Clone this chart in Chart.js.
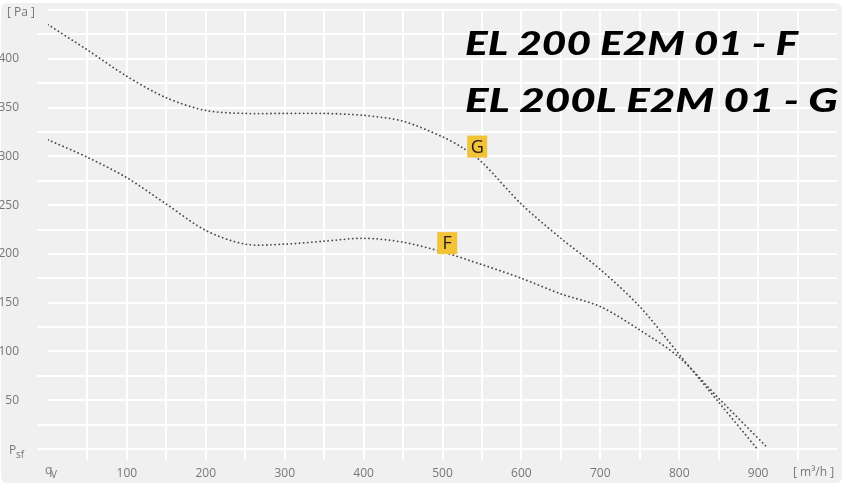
<!DOCTYPE html>
<html>
<head>
<meta charset="utf-8">
<script src="https://cdn.jsdelivr.net/npm/chart.js@4"></script>
<style>
    html, body {margin: 0; padding: 0; background: #fff;}
    #wrap {width: 846px; height: 490px;}
</style>
</head>
<body>
<div id="wrap"><canvas id="chart" width="846" height="490"></canvas></div>
<script>
// curve G (EL 200L E2M 01)
const flowG = [0, 50, 100, 150, 200, 250, 300, 350, 400, 450, 500, 525, 550, 600, 650, 700, 750, 800, 850, 899]
const pressG = [435, 409, 382, 360, 347, 344, 344, 344, 342, 336, 320, 309, 294, 251, 216, 184, 146, 97, 48, 0]
// curve F (EL 200 E2M 01)
const flowF = [0, 50, 100, 150, 200, 250, 300, 350, 400, 450, 500, 550, 600, 650, 700, 750, 800, 850, 911]
const pressF = [317, 299, 278, 251, 224, 210, 210, 213, 216, 212, 202, 189, 175, 159, 146, 122, 94, 52, 2]

const badgeLabels = ['G', 'F']
const badgeFlow = [544, 506]
const badgePress = [310, 211]

const titleLines = ['EL 200 E2M 01 - F', 'EL 200L E2M 01 - G']

const TRANSPARENT = 'rgba(0,0,0,0)'
const TICK_FONT = "'Open Sans', 'Noto Sans', sans-serif"

const toPoints = (xs, ys) => xs.map((x, i) => ({x: x, y: ys[i]}))

const noPadding = (scale) => {
    scale.paddingTop = 0
    scale.paddingBottom = 0
    scale.paddingLeft = 0
    scale.paddingRight = 0
}

const panelPlugin = {
    id: 'panel',
    beforeDraw(chart) {
        const ctx = chart.ctx
        ctx.save()
        ctx.fillStyle = '#fff'
        ctx.fillRect(0, 0, chart.width, chart.height)
        ctx.fillStyle = '#f0f0f0'
        ctx.beginPath()
        ctx.roundRect(1, 3, 841, 480, 6)
        ctx.fill()
        ctx.restore()
    }
}

const labelsPlugin = {
    id: 'labels',
    afterDraw(chart) {
        const ctx = chart.ctx
        const {x, y} = chart.scales
        ctx.save()
        ctx.fillStyle = '#777'
        ctx.textBaseline = 'alphabetic'
        ctx.font = `12px ${TICK_FONT}`
        ctx.textAlign = 'left'
        ctx.fillText('[ Pa ]', 7, 16)
        ctx.fillText('P', 9, 454)
        ctx.fillText('q', 45, 474)
        ctx.fillText('[ m³/h ]', 793, 476)
        ctx.font = `10px ${TICK_FONT}`
        ctx.fillText('sf', 16, 458)
        ctx.fillText('V', 51, 478)

        // badges
        badgeLabels.forEach((label, i) => {
            const px = x.getPixelForValue(badgeFlow[i])
            const py = y.getPixelForValue(badgePress[i])
            ctx.fillStyle = '#f2c337'
            ctx.fillRect(px - 10, py - 11, 20, 22)
            ctx.fillStyle = '#1a1a1a'
            ctx.font = `18px ${TICK_FONT}`
            ctx.textAlign = 'center'
            ctx.textBaseline = 'middle'
            ctx.fillText(label, px, py + 1)
        })

        // title
        const titleBoxes = [[465, 798, 55], [465, 838, 112]]
        ctx.fillStyle = '#000'
        ctx.textAlign = 'left'
        ctx.textBaseline = 'alphabetic'
        ctx.font = "italic 900 33px Lato, 'Open Sans', sans-serif"
        titleLines.forEach((text, i) => {
            const [left, right, base] = titleBoxes[i]
            const w = ctx.measureText(text).width
            ctx.save()
            ctx.translate(left, base)
            ctx.scale((right - left) / w, 1)
            ctx.fillText(text, 0, 0)
            ctx.restore()
        })
        ctx.restore()
    }
}

const lineStyle = {
    borderColor: '#4a4a4a',
    borderWidth: 1.8,
    borderDash: [0.1, 4],
    borderCapStyle: 'round',
    pointRadius: 0,
    fill: false,
    tension: 0.3,
}

const chart = new Chart(document.getElementById('chart'), {
    type: 'line',
    data: {
        datasets: [
            {label: 'G', data: toPoints(flowG, pressG), ...lineStyle},
            {label: 'F', data: toPoints(flowF, pressF), ...lineStyle},
        ]
    },
    plugins: [panelPlugin, labelsPlugin],
    options: {
        responsive: false,
        animation: false,
        layout: {padding: {top: 10, right: 9, left: 0, bottom: 0}},
        plugins: {legend: {display: false}, tooltip: {enabled: false}},
        scales: {
            x: {
                type: 'linear',
                min: 0,
                max: 1000,
                afterFit: (scale) => { scale.height = 41; noPadding(scale) },
                border: {display: false},
                grid: {
                    lineWidth: 2,
                    tickLength: 11,
                    color: (c) => (c.tick.value === 0 || c.tick.value === 1000) ? TRANSPARENT : '#fff',
                    tickColor: (c) => (c.tick.value === 0 || c.tick.value === 1000) ? TRANSPARENT : '#fff',
                },
                ticks: {
                    stepSize: 50,
                    autoSkip: false,
                    maxRotation: 0,
                    padding: 6,
                    color: '#777',
                    font: {size: 12, family: TICK_FONT},
                    callback: (v) => (v % 100 === 0 && v > 0 && v < 1000) ? String(v) : '',
                }
            },
            y: {
                min: 0,
                max: 450,
                afterFit: (scale) => { scale.width = 48; noPadding(scale) },
                border: {display: false},
                grid: {
                    lineWidth: 2,
                    tickLength: 11,
                    color: '#fff',
                    tickColor: (c) => (c.tick.value % 50 === 0 && c.tick.value !== 0) ? TRANSPARENT : '#fff',
                },
                ticks: {
                    stepSize: 25,
                    autoSkip: false,
                    padding: 18,
                    color: '#777',
                    font: {size: 12, family: TICK_FONT},
                    callback: (v) => (v % 50 === 0 && v > 0 && v < 450) ? String(v) : '',
                }
            }
        }
    }
})
</script>
</body>
</html>
